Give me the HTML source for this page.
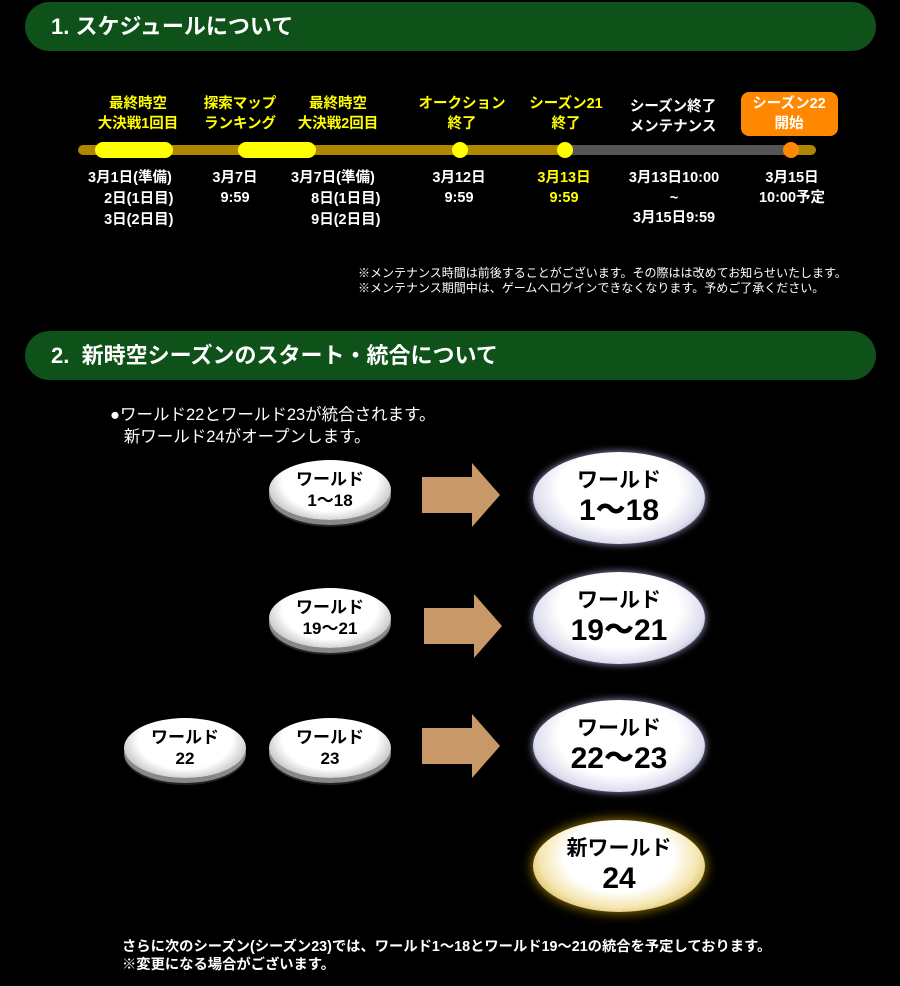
<!DOCTYPE html>
<html><head><meta charset="utf-8"><style>
body{margin:0;background:#000;width:900px;height:986px;position:relative;overflow:hidden;font-family:"Liberation Sans","Noto Sans CJK JP",sans-serif;color:#fff}
.a{position:absolute}
.hd{position:absolute;left:25px;width:851px;height:49px;background:#0e5119;border-radius:25px;font-weight:bold;font-size:22px;line-height:49px;box-sizing:border-box;padding-left:26px}
.lb{position:absolute;width:110px;text-align:center;font-weight:bold;font-size:14.5px;line-height:20px}
.y{color:#ffff00}
.sm{position:absolute;width:122px;height:60px;border-radius:50%;background:radial-gradient(ellipse at 50% 35%,#fff 55%,#bbb 80%,#555 100%);box-shadow:0 5px 0 #888,0 7px 0 #222;color:#000;text-align:center;font-weight:bold;font-size:17px;line-height:21px;padding-top:9px;box-sizing:border-box}
.bg{position:absolute;width:172px;height:92px;border-radius:50%;background:radial-gradient(ellipse at 50% 40%,#fff 50%,#dde 70%,#556 92%,#223 100%);box-shadow:0 0 8px #99c;color:#000;text-align:center;font-weight:bold;font-size:21px;line-height:30px;padding-top:14px;box-sizing:border-box}
.bg b{font-size:30px}
.ar{position:absolute;width:78px;height:64px}
</style></head><body>
<div class="hd" style="top:2px">1. スケジュールについて</div>
<div class="a" style="left:78px;top:145px;width:488px;height:10px;background:#b08600;border-radius:5px"></div>
<div class="a" style="left:566px;top:145px;width:226px;height:10px;background:#555"></div>
<div class="a" style="left:790px;top:145px;width:26px;height:10px;background:#b08600;border-radius:5px"></div>
<div class="a" style="left:95px;top:142px;width:78px;height:16px;background:#ff0;border-radius:8px"></div>
<div class="a" style="left:238px;top:142px;width:78px;height:16px;background:#ff0;border-radius:8px"></div>
<div class="a" style="left:452px;top:142px;width:16px;height:16px;background:#ff0;border-radius:50%"></div>
<div class="a" style="left:557px;top:142px;width:16px;height:16px;background:#ff0;border-radius:50%"></div>
<div class="a" style="left:783px;top:142px;width:16px;height:16px;background:#f80;border-radius:50%"></div>
<div class="lb y" style="left:83px;top:94px">最終時空<br>大決戦1回目</div>
<div class="lb y" style="left:185px;top:94px">探索マップ<br>ランキング</div>
<div class="lb y" style="left:283px;top:94px">最終時空<br>大決戦2回目</div>
<div class="lb y" style="left:407px;top:94px">オークション<br>終了</div>
<div class="lb y" style="left:511px;top:94px">シーズン21<br>終了</div>
<div class="lb" style="left:618px;top:97px">シーズン終了<br>メンテナンス</div>
<div class="a" style="left:741px;top:92px;width:97px;height:44px;background:#f80;border-radius:8px"></div>
<div class="lb" style="left:734px;top:94px">シーズン22<br>開始</div>
<div class="lb" style="left:83px;top:168px;text-align:left;padding-left:5px;line-height:21px;width:130px">3月1日(準備)<br>&nbsp;&nbsp;&nbsp;&nbsp;2日(1日目)<br>&nbsp;&nbsp;&nbsp;&nbsp;3日(2日目)</div>
<div class="lb" style="left:180px;top:168px">3月7日<br>9:59</div>
<div class="lb" style="left:283px;top:168px;text-align:left;padding-left:8px;line-height:21px;width:130px">3月7日(準備)<br>&nbsp;&nbsp;&nbsp;&nbsp;&nbsp;8日(1日目)<br>&nbsp;&nbsp;&nbsp;&nbsp;&nbsp;9日(2日目)</div>
<div class="lb" style="left:404px;top:168px">3月12日<br>9:59</div>
<div class="lb y" style="left:509px;top:168px">3月13日<br>9:59</div>
<div class="lb" style="left:619px;top:168px">3月13日10:00<br>~<br>3月15日9:59</div>
<div class="lb" style="left:737px;top:168px">3月15日<br>10:00予定</div>
<div class="a" style="left:358px;top:266px;font-size:12px;line-height:15px;white-space:nowrap">※メンテナンス時間は前後することがございます。その際はは改めてお知らせいたします。<br>※メンテナンス期間中は、ゲームへログインできなくなります。予めご了承ください。</div>
<div class="hd" style="top:331px">2.&nbsp;&nbsp;新時空シーズンのスタート・統合について</div>
<div class="a" style="left:110px;top:404px;font-size:16.5px;line-height:22px">●ワールド22とワールド23が統合されます。<br>&nbsp;&nbsp;&nbsp;新ワールド24がオープンします。</div>
<div class="sm" style="left:269px;top:460px">ワールド<br>1〜18</div>
<div class="sm" style="left:269px;top:588px">ワールド<br>19〜21</div>
<div class="sm" style="left:124px;top:718px">ワールド<br>22</div>
<div class="sm" style="left:269px;top:718px">ワールド<br>23</div>
<div class="bg" style="left:533px;top:452px">ワールド<br><b>1〜18</b></div>
<div class="bg" style="left:533px;top:572px">ワールド<br><b>19〜21</b></div>
<div class="bg" style="left:533px;top:700px">ワールド<br><b>22〜23</b></div>
<div class="bg" style="left:533px;top:820px;background:radial-gradient(ellipse at 50% 40%,#fff 45%,#f4e6b0 65%,#c9a030 88%,#432 100%);box-shadow:0 0 12px #a80">新ワールド<br><b>24</b></div>
<svg class="ar" style="left:422px;top:463px" viewBox="0 0 78 64"><polygon points="0,14 50,14 50,0 78,32 50,64 50,50 0,50" fill="#c99868"/></svg>
<svg class="ar" style="left:424px;top:594px" viewBox="0 0 78 64"><polygon points="0,14 50,14 50,0 78,32 50,64 50,50 0,50" fill="#c99868"/></svg>
<svg class="ar" style="left:422px;top:714px" viewBox="0 0 78 64"><polygon points="0,14 50,14 50,0 78,32 50,64 50,50 0,50" fill="#c99868"/></svg>
<div class="a" style="left:122px;top:938px;font-size:14.3px;line-height:18px;font-weight:bold;white-space:nowrap">さらに次のシーズン(シーズン23)では、ワールド1〜18とワールド19〜21の統合を予定しております。<br>※変更になる場合がございます。</div>
</body></html>
